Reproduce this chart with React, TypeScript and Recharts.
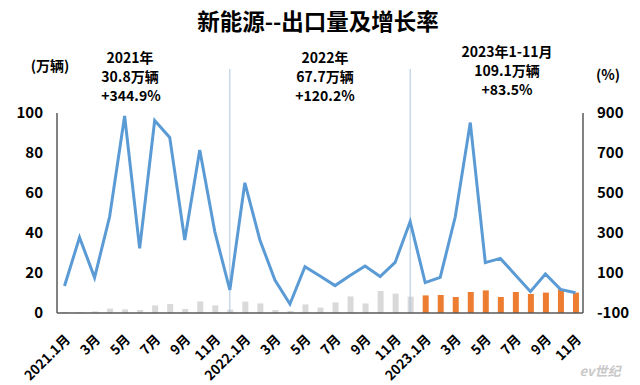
import React from 'react';
import { ComposedChart, Bar, Line, XAxis, YAxis, Cell, ReferenceLine } from 'recharts';

const categories = [
  '2021.1', '2021.2', '2021.3', '2021.4', '2021.5', '2021.6', '2021.7', '2021.8', '2021.9', '2021.10', '2021.11', '2021.12',
  '2022.1', '2022.2', '2022.3', '2022.4', '2022.5', '2022.6', '2022.7', '2022.8', '2022.9', '2022.10', '2022.11', '2022.12',
  '2023.1', '2023.2', '2023.3', '2023.4', '2023.5', '2023.6', '2023.7', '2023.8', '2023.9', '2023.10', '2023.11',
];

const tickLabels = [
  '2021.1月', '2月', '3月', '4月', '5月', '6月', '7月', '8月', '9月', '10月', '11月', '12月',
  '2022.1月', '2月', '3月', '4月', '5月', '6月', '7月', '8月', '9月', '10月', '11月', '12月',
  '2023.1月', '2月', '3月', '4月', '5月', '6月', '7月', '8月', '9月', '10月', '11月',
];

// 出口量 (万辆)
const exportVolume = [
  0.5, 0.4, 0.8, 2.2, 1.8, 1.5, 3.8, 4.5, 2.0, 5.8, 3.8, 1.7,
  5.7, 4.8, 1.5, 1.0, 4.3, 2.7, 5.3, 8.3, 4.8, 11.0, 9.7, 8.2,
  8.8, 9.0, 8.0, 10.5, 11.3, 8.0, 10.5, 9.5, 10.2, 11.8, 10.2,
];

// 增长率 (%)
const growthRate = [
  35, 278, 77, 381, 885, 223, 862, 778, 265, 715, 307, 15,
  551, 265, 65, -55, 131, 85, 37, 87, 135, 82, 153, 357,
  52, 78, 381, 852, 152, 173, 90, 7, 95, 18, 1,
];

const years = ['2021', '2022', '2023'];
const leftTicks = [0, 20, 40, 60, 80, 100];
const rightTicks = [-100, 100, 300, 500, 700, 900];

const data = categories.map((c, i) => ({
  key: c,
  label: tickLabels[i],
  year: c.split('.')[0],
  volume: exportVolume[i],
  growth: growthRate[i],
}));

const FONT = '"Noto Sans CJK SC", "Noto Sans", sans-serif';

const XTick = (props: any) => {
  const { x, y, payload } = props;
  const label = tickLabels[categories.indexOf(payload.value)];
  return (
    <g transform={`translate(${x + 3},${y + 16})`}>
      <text
        x={0}
        y={0}
        dy={5}
        textAnchor="end"
        transform="rotate(-45)"
        fontSize={13.5}
        fontWeight="bold"
        fill="#000"
        fontFamily={FONT}
      >
        {label}
      </text>
    </g>
  );
};

const annStyle: React.CSSProperties = {
  fontFamily: FONT,
  fontWeight: 'bold',
  fontSize: 14,
};

export default function App() {
  return (
    <div style={{ position: 'absolute', left: 0, top: 0, width: 640, height: 385, background: '#fff' }}>
      <ComposedChart
        width={640}
        height={385}
        data={data}
        margin={{ top: 113, right: 0, bottom: 0, left: 0 }}
        barCategoryGap={0}
      >
        <XAxis
          dataKey="key"
          interval={1}
          tick={<XTick />}
          tickLine={false}
          axisLine={{ stroke: '#595959', strokeWidth: 1.5 }}
          height={72}
        />
        <YAxis
          yAxisId="left"
          domain={[0, 100]}
          ticks={leftTicks}
          width={57}
          tickSize={0}
          tickMargin={14}
          tickLine={false}
          axisLine={{ stroke: '#595959', strokeWidth: 1.5 }}
          tick={{ fontSize: 15, fontWeight: 'bold', fill: '#000', fontFamily: FONT }}
        />
        <YAxis
          yAxisId="right"
          orientation="right"
          domain={[-100, 900]}
          ticks={rightTicks}
          width={57}
          tickSize={0}
          tickMargin={14}
          tickLine={false}
          axisLine={{ stroke: '#595959', strokeWidth: 1.5 }}
          tick={{ fontSize: 15, fontWeight: 'bold', fill: '#000', fontFamily: FONT, textAnchor: 'start' }}
        />
        <ReferenceLine
          yAxisId="left"
          ifOverflow="visible"
          segment={[{ x: '2021.12', y: 0 }, { x: '2021.12', y: 122 }]}
          stroke="#a9c6e0"
          strokeWidth={1}
        />
        <ReferenceLine
          yAxisId="left"
          ifOverflow="visible"
          segment={[{ x: '2022.12', y: 0 }, { x: '2022.12', y: 122 }]}
          stroke="#a9c6e0"
          strokeWidth={1}
        />
        <Bar yAxisId="left" dataKey="volume" barSize={6} isAnimationActive={false}>
          {data.map((d) => (
            <Cell key={d.key} fill={d.year === years[2] ? '#ED7D31' : '#D9D9D9'} />
          ))}
        </Bar>
        <Line
          yAxisId="right"
          type="linear"
          dataKey="growth"
          stroke="#5B9BD5"
          strokeWidth={3}
          dot={false}
          isAnimationActive={false}
        />
        <text x={318} y={30} textAnchor="middle" fontFamily={FONT} fontWeight="bold" fontSize={22.5} fill="#000">
          新能源--出口量及增长率
        </text>
        <text x={50} y={71} textAnchor="middle" style={annStyle} fill="#000">(万辆)</text>
        <text x={608} y={80} textAnchor="middle" style={annStyle} fill="#000">(%)</text>
        <text x={130} y={63} textAnchor="middle" style={annStyle} fill="#000">2021年</text>
        <text x={130} y={82} textAnchor="middle" style={annStyle} fill="#000">30.8万辆</text>
        <text x={131} y={101} textAnchor="middle" style={annStyle} fill="#000">+344.9%</text>
        <text x={325} y={63} textAnchor="middle" style={annStyle} fill="#000">2022年</text>
        <text x={325} y={82} textAnchor="middle" style={annStyle} fill="#000">67.7万辆</text>
        <text x={325} y={101} textAnchor="middle" style={annStyle} fill="#000">+120.2%</text>
        <text x={507} y={57} textAnchor="middle" style={annStyle} fill="#000">2023年1-11月</text>
        <text x={507} y={76} textAnchor="middle" style={annStyle} fill="#000">109.1万辆</text>
        <text x={507} y={95} textAnchor="middle" style={annStyle} fill="#000">+83.5%</text>
        <text x={600} y={376} textAnchor="middle" fontFamily={FONT} fontStyle="italic" fontWeight="bold" fontSize={13} fill="#c8c8c8">
          ev世纪
        </text>
      </ComposedChart>
    </div>
  );
}
